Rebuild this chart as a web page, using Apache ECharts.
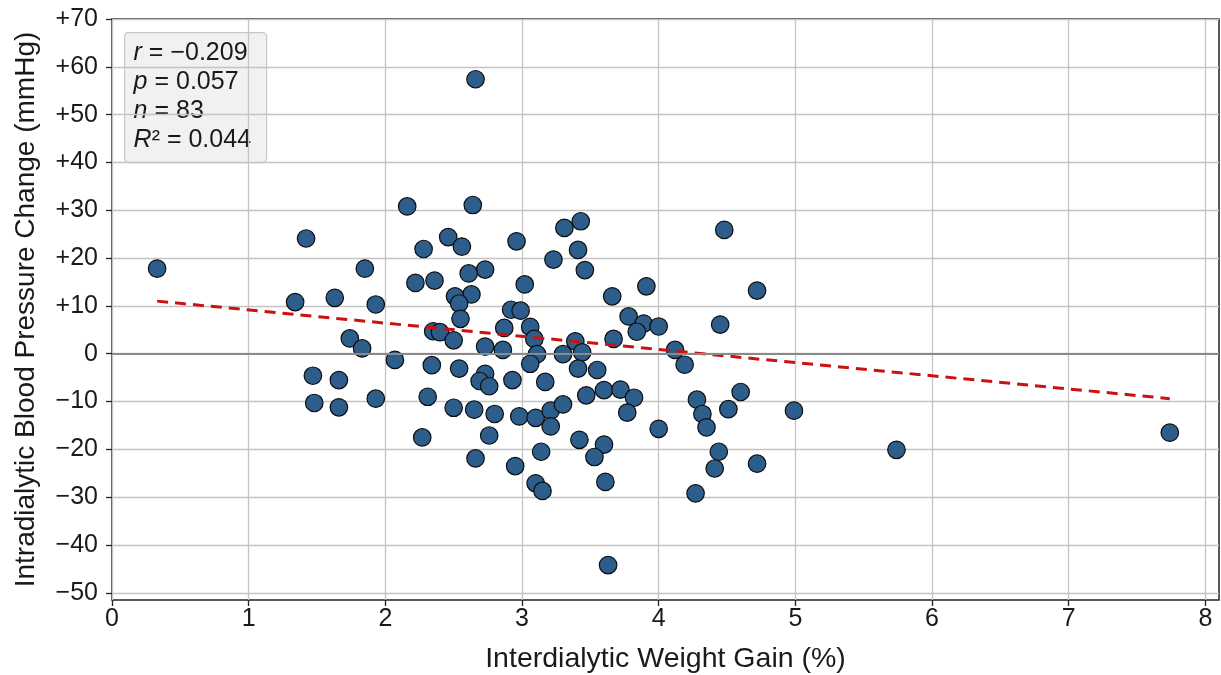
<!DOCTYPE html>
<html>
<head>
<meta charset="utf-8">
<title>IDWG vs intradialytic BP change</title>
<script src="https://cdn.jsdelivr.net/npm/echarts@6/dist/echarts.min.js"></script>
<style>
    html, body { margin: 0; padding: 0; background: #fff; }
    #chart { width: 1221px; height: 675px; }
</style>
</head>
<body>
<div id="chart"></div>
<script>
// 数据：体重增长 (%) 与 血压变化 (mmHg)
const weightGain = [
    0.33, 1.42, 1.34, 1.63, 1.85, 1.93, 1.74, 1.83, 2.07, 1.47,
    1.66, 1.48, 1.66, 1.93, 2.16, 2.64, 2.46, 2.56, 2.28, 2.96,
    3.31, 3.43, 3.41, 3.23, 3.46, 2.73, 2.61, 2.22, 2.36, 3.02,
    2.63, 2.51, 2.54, 2.55, 2.92, 2.99, 3.66, 3.91, 3.78, 3.89,
    3.84, 4.00, 4.12, 4.19, 2.35, 2.40, 2.50, 2.87, 3.06, 3.09,
    3.39, 3.67, 2.73, 2.86, 3.11, 3.06, 3.30, 3.44, 2.34, 2.54,
    2.73, 2.69, 2.76, 2.93, 3.17, 3.41, 3.55, 3.47, 3.60, 3.72,
    3.82, 3.77, 4.00, 2.31, 2.50, 2.65, 2.80, 2.98, 3.10, 3.21,
    3.30, 3.21, 2.27, 2.76, 3.42, 3.60, 3.53, 3.14, 2.66, 2.95,
    3.10, 3.15, 3.61, 3.63, 4.48, 4.72, 4.45, 4.60, 4.28, 4.51,
    4.32, 4.99, 4.35, 4.44, 4.41, 4.72, 4.27, 5.74, 7.74, 2.66
];
const bpChange = [
    17.8, 24.1, 10.8, 11.7, 17.8, 10.3, 3.2, 1.1, -1.3, -4.6,
    -5.5, -10.3, -11.2, -9.4, 30.8, 31.1, 24.4, 22.4, 21.9, 23.5,
    26.3, 27.7, 21.7, 19.7, 17.5, 17.6, 16.8, 14.8, 15.3, 14.5,
    12.4, 12.0, 10.5, 7.3, 9.2, 9.0, 12.0, 14.1, 7.8, 6.3,
    4.6, 5.7, 0.8, -2.3, 4.7, 4.5, 2.8, 5.4, 5.6, 3.1,
    2.6, 3.1, 1.5, 0.8, -0.1, -2.1, -0.1, 0.3, -2.4, -3.1,
    -4.2, -5.7, -6.8, -5.5, -5.9, -3.1, -3.4, -8.7, -7.6, -7.5,
    -9.2, -12.3, -15.7, -9.0, -11.3, -11.7, -12.6, -13.1, -13.4, -11.9,
    -10.6, -15.2, -17.5, -17.1, -18.0, -19.0, -21.6, -20.5, -21.9, -23.5,
    -27.1, -28.7, -26.8, -44.2, 25.9, 13.2, 6.1, -8.0, -9.6, -11.6,
    -12.6, -11.9, -15.4, -20.5, -24.0, -23.0, -29.2, -20.1, -16.5, 57.4
];

// 回归线（端点读自原图）
const trendX = [0.33, 7.74];
const trendY = [11.0, -9.4];

// 刻度
const xTicks = [0, 1, 2, 3, 4, 5, 6, 7, 8];
const yTicks = [-50, -40, -30, -20, -10, 0, 10, 20, 30, 40, 50, 60, 70];

// 统计信息
const statLines = [
    ['r', ' = \u22120.209'],
    ['p', ' = 0.057'],
    ['n', ' = 83'],
    ['R', '\u00b2 = 0.044']
];

const FONT = '"Liberation Sans", Arial, sans-serif';
const TEXT_COLOR = '#1a1a1a';

/**
 * y 轴刻度格式：正数带 +，负数用 −
 */
function formatSigned(v) {
    if (v > 0) return '+' + v;
    if (v < 0) return '\u2212' + Math.abs(v);
    return '0';
}

const points = weightGain.map((x, i) => [x, bpChange[i]]);
const trend = trendX.map((x, i) => [x, trendY[i]]);

const statText = statLines.map(l => '{i|' + l[0] + '}{t|' + l[1] + '}').join('\n');

const chart = echarts.init(document.getElementById('chart'), null, { renderer: 'canvas' });

chart.setOption({
    animation: false,
    backgroundColor: '#fff',
    grid: {
        left: 112,
        right: 2,
        top: 19,
        bottom: 75,
        outerBoundsMode: 'none',
        show: true,
        borderColor: '#222',
        borderWidth: 1.5,
        backgroundColor: 'transparent'
    },
    xAxis: {
        type: 'value',
        min: 0,
        max: 8.1,
        interval: 1,
        name: 'Interdialytic Weight Gain (%)',
        nameLocation: 'middle',
        nameGap: 45,
        nameTextStyle: { fontFamily: FONT, fontSize: 28.5, color: TEXT_COLOR },
        axisLine: { show: false, onZero: false },
        axisTick: {
            show: true, inside: false, length: 6,
            customValues: xTicks,
            lineStyle: { color: '#222', width: 1.3 }
        },
        axisLabel: {
            customValues: xTicks,
            margin: 7,
            fontFamily: FONT, fontSize: 25, color: TEXT_COLOR
        },
        splitLine: { show: true, lineStyle: { color: '#c4c4c4', width: 1.3 } }
    },
    yAxis: {
        type: 'value',
        min: -51.5,
        max: 70,
        interval: 10,
        name: 'Intradialytic Blood Pressure Change (mmHg)',
        nameLocation: 'middle',
        nameRotate: 90,
        nameGap: 72,
        nameTextStyle: { fontFamily: FONT, fontSize: 28, color: TEXT_COLOR },
        axisLine: { show: false, onZero: false },
        axisTick: {
            show: true, inside: false, length: 6,
            customValues: yTicks,
            lineStyle: { color: '#222', width: 1.3 }
        },
        axisLabel: {
            customValues: yTicks,
            margin: 14,
            fontFamily: FONT, fontSize: 25, color: TEXT_COLOR,
            formatter: formatSigned
        },
        splitLine: { show: true, lineStyle: { color: '#c4c4c4', width: 1.3 } }
    },
    series: [
        {
            // 零线
            type: 'line',
            data: [],
            markLine: {
                silent: true,
                symbol: ['none', 'none'],
                label: { show: false },
                lineStyle: { color: '#8a8a8a', width: 2.2, type: 'solid' },
                data: [{ yAxis: 0 }]
            }
        },
        {
            type: 'scatter',
            data: points,
            symbol: 'circle',
            symbolSize: 17.5,
            itemStyle: {
                color: '#2d5d8b',
                borderColor: '#0d0d0d',
                borderWidth: 1.2,
                opacity: 1
            },
            z: 3
        },
        {
            type: 'line',
            data: trend,
            showSymbol: false,
            symbol: 'none',
            lineStyle: { color: '#cc1111', width: 3, type: [11, 7] },
            z: 4
        }
    ],
    graphic: [
        {
            type: 'group',
            left: 124,
            top: 32,
            z: 10,
            children: [
                {
                    type: 'rect',
                    shape: { x: 0, y: 0, width: 142, height: 130, r: 4 },
                    style: { fill: 'rgba(240,240,240,0.92)', stroke: '#c8c8c8', lineWidth: 1.2 }
                },
                {
                    type: 'text',
                    x: 9,
                    y: 6,
                    style: {
                        text: statText,
                        fill: TEXT_COLOR,
                        font: '25px ' + FONT,
                        lineHeight: 29,
                        rich: {
                            i: { fontStyle: 'italic', fontFamily: FONT, fontSize: 25, lineHeight: 29, fill: TEXT_COLOR },
                            t: { fontFamily: FONT, fontSize: 25, lineHeight: 29, fill: TEXT_COLOR }
                        }
                    }
                }
            ]
        }
    ]
});
</script>
</body>
</html>
